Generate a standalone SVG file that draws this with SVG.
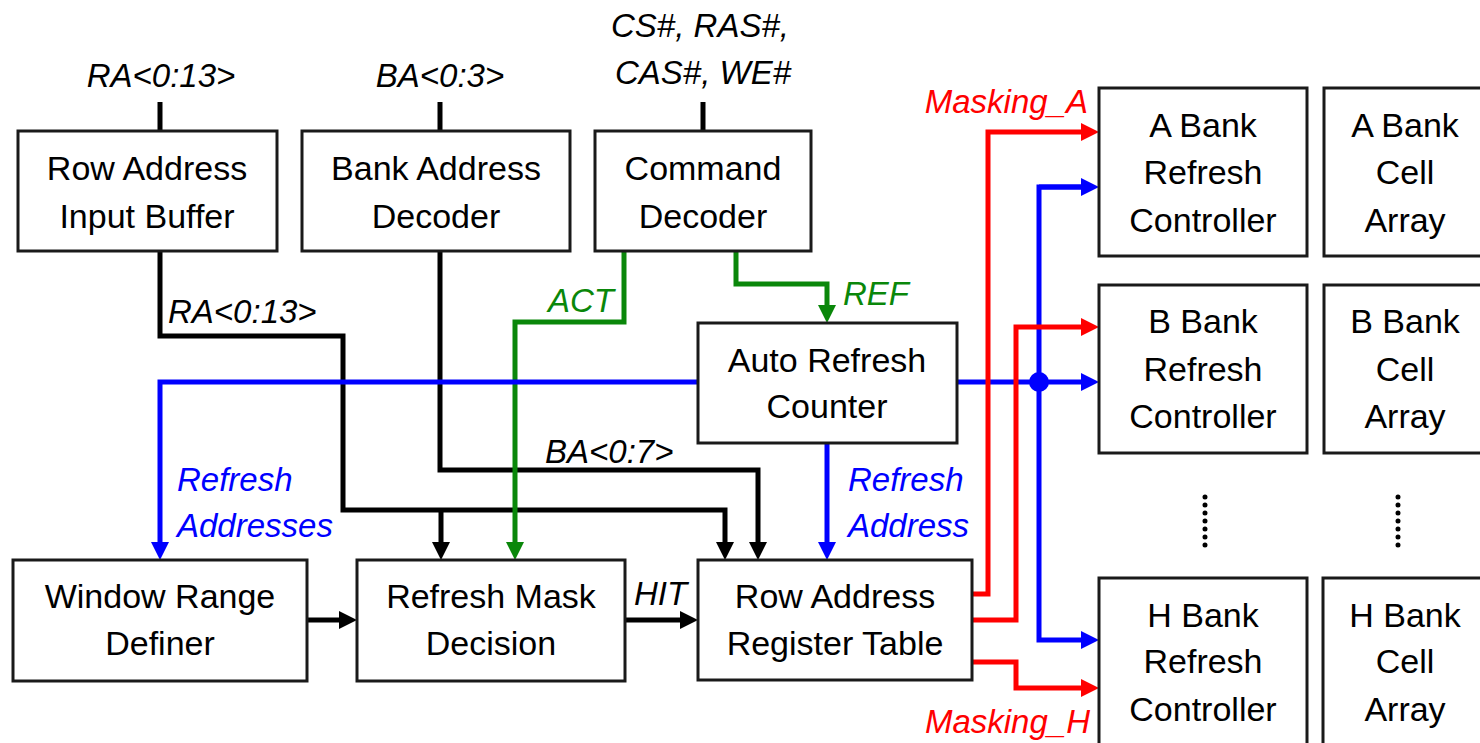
<svg xmlns="http://www.w3.org/2000/svg" width="1480" height="743" viewBox="0 0 1480 743">
  <style>
    .box { fill: #ffffff; stroke: #1a1a1a; stroke-width: 3; }
    .lbl { font-family: "Liberation Sans", Arial, sans-serif; font-size: 34px; fill: #000; text-anchor: middle; }
    .sig { font-family: "Liberation Sans", Arial, sans-serif; font-size: 33px; font-style: italic; }
    .w { fill: none; stroke-width: 5; stroke-linejoin: miter; }
    .k { stroke: #000; }
    .b { stroke: #0000ff; }
    .r { stroke: #ff0000; }
    .g { stroke: #0a870a; }
    .dots { fill: none; stroke: #000; stroke-width: 5; stroke-linecap: round; stroke-dasharray: 0 8; }
  </style>
  <defs>
    <marker id="ak" viewBox="0 0 18 18" markerUnits="userSpaceOnUse" markerWidth="18" markerHeight="18" refX="6" refY="9" orient="auto">
      <path d="M0,0 L18,9 L0,18 z" fill="#000"/>
    </marker>
    <marker id="ab" viewBox="0 0 18 18" markerUnits="userSpaceOnUse" markerWidth="18" markerHeight="18" refX="6" refY="9" orient="auto">
      <path d="M0,0 L18,9 L0,18 z" fill="#0000ff"/>
    </marker>
    <marker id="ar" viewBox="0 0 18 18" markerUnits="userSpaceOnUse" markerWidth="18" markerHeight="18" refX="6" refY="9" orient="auto">
      <path d="M0,0 L18,9 L0,18 z" fill="#ff0000"/>
    </marker>
    <marker id="ag" viewBox="0 0 18 18" markerUnits="userSpaceOnUse" markerWidth="18" markerHeight="18" refX="6" refY="9" orient="auto">
      <path d="M0,0 L18,9 L0,18 z" fill="#0a870a"/>
    </marker>
  </defs>
  <rect width="1480" height="743" fill="#ffffff"/>

  <!-- wires -->
  <g id="connectors">
    <!-- external inputs -->
    <path class="w k" d="M160,102 V131"/>
    <path class="w k" d="M440,102 V131"/>
    <path class="w k" d="M703,102 V131"/>
    <!-- row address bus -->
    <path class="w k" d="M160,251 V336 H343 V510 H725 V548" marker-end="url(#ak)"/>
    <path class="w k" d="M441,510 V548" marker-end="url(#ak)"/>
    <!-- bank address bus -->
    <path class="w k" d="M440,251 V470 H758 V548" marker-end="url(#ak)"/>
    <!-- window range -> mask decision, HIT -->
    <path class="w k" d="M307,620 H345" marker-end="url(#ak)"/>
    <path class="w k" d="M625,620 H686" marker-end="url(#ak)"/>
    <!-- command outputs -->
    <path class="w g" d="M624,251 V322 H515 V548" marker-end="url(#ag)"/>
    <path class="w g" d="M736,251 V284 H827 V311" marker-end="url(#ag)"/>
    <!-- refresh address fan-out -->
    <path class="w b" d="M698,382 H160 V548" marker-end="url(#ab)"/>
    <path class="w b" d="M827,443 V548" marker-end="url(#ab)"/>
    <path class="w b" d="M957,382 H1087" marker-end="url(#ab)"/>
    <path class="w b" d="M1087,187 H1039 V640 H1087" marker-end="url(#ab)"/>
    <path class="w b" d="M1039,187 H1087" marker-end="url(#ab)"/>
    <circle cx="1039" cy="382" r="10" fill="#0000ff"/>
    <!-- masking signals -->
    <path class="w r" d="M972,594 H988 V132 H1087" marker-end="url(#ar)"/>
    <path class="w r" d="M972,620 H1016 V327 H1087" marker-end="url(#ar)"/>
    <path class="w r" d="M972,662 H1016 V688 H1087" marker-end="url(#ar)"/>
    <!-- bank ellipsis -->
    <path class="dots" d="M1205,497 V546"/>
    <path class="dots" d="M1398,497 V546"/>
  </g>

  <!-- signal names -->
  <g id="signal-labels">
    <text class="sig" x="161" y="87" text-anchor="middle">RA&lt;0:13&gt;</text>
    <text class="sig" x="440" y="87" text-anchor="middle">BA&lt;0:3&gt;</text>
    <text class="sig" x="700" y="37" text-anchor="middle">CS#, RAS#,</text>
    <text class="sig" x="703" y="84" text-anchor="middle">CAS#, WE#</text>
    <text class="sig" x="168" y="323">RA&lt;0:13&gt;</text>
    <text class="sig" x="545" y="463">BA&lt;0:7&gt;</text>
    <text class="sig" x="634" y="605">HIT</text>
    <text class="sig" x="548" y="312" fill="#0a870a">ACT</text>
    <text class="sig" x="843" y="305" fill="#0a870a">REF</text>
    <text class="sig" x="177" y="491" fill="#0000ff">Refresh</text>
    <text class="sig" x="177" y="537" fill="#0000ff">Addresses</text>
    <text class="sig" x="848" y="491" fill="#0000ff">Refresh</text>
    <text class="sig" x="848" y="537" fill="#0000ff">Address</text>
    <text class="sig" x="1088" y="113" fill="#ff0000" text-anchor="end">Masking_A</text>
    <text class="sig" x="1090" y="733" fill="#ff0000" text-anchor="end">Masking_H</text>
  </g>

  <g id="row-address-input-buffer">
    <rect class="box" x="18" y="131" width="259" height="120"/>
    <text class="lbl" x="147" y="180">Row Address</text>
    <text class="lbl" x="147" y="228">Input Buffer</text>
  </g>
  <g id="bank-address-decoder">
    <rect class="box" x="302" y="131" width="268" height="120"/>
    <text class="lbl" x="436" y="180">Bank Address</text>
    <text class="lbl" x="436" y="228">Decoder</text>
  </g>
  <g id="command-decoder">
    <rect class="box" x="595" y="131" width="216" height="120"/>
    <text class="lbl" x="703" y="180">Command</text>
    <text class="lbl" x="703" y="228">Decoder</text>
  </g>
  <g id="auto-refresh-counter">
    <rect class="box" x="698" y="323" width="259" height="120"/>
    <text class="lbl" x="827" y="372">Auto Refresh</text>
    <text class="lbl" x="827" y="418">Counter</text>
  </g>
  <g id="window-range-definer">
    <rect class="box" x="13" y="560" width="294" height="121"/>
    <text class="lbl" x="160" y="608">Window Range</text>
    <text class="lbl" x="160" y="655">Definer</text>
  </g>
  <g id="refresh-mask-decision">
    <rect class="box" x="357" y="560" width="268" height="121"/>
    <text class="lbl" x="491" y="608">Refresh Mask</text>
    <text class="lbl" x="491" y="655">Decision</text>
  </g>
  <g id="row-address-register-table">
    <rect class="box" x="698" y="560" width="274" height="120"/>
    <text class="lbl" x="835" y="608">Row Address</text>
    <text class="lbl" x="835" y="655">Register Table</text>
  </g>

  <g id="a-bank-refresh-controller">
    <rect class="box" x="1099" y="88" width="208" height="168"/>
    <text class="lbl" x="1203" y="137">A Bank</text>
    <text class="lbl" x="1203" y="184">Refresh</text>
    <text class="lbl" x="1203" y="232">Controller</text>
  </g>
  <g id="a-bank-cell-array">
    <rect class="box" x="1324" y="88" width="170" height="168"/>
    <text class="lbl" x="1405" y="137">A Bank</text>
    <text class="lbl" x="1405" y="184">Cell</text>
    <text class="lbl" x="1405" y="232">Array</text>
  </g>
  <g id="b-bank-refresh-controller">
    <rect class="box" x="1099" y="285" width="208" height="168"/>
    <text class="lbl" x="1203" y="333">B Bank</text>
    <text class="lbl" x="1203" y="381">Refresh</text>
    <text class="lbl" x="1203" y="428">Controller</text>
  </g>
  <g id="b-bank-cell-array">
    <rect class="box" x="1324" y="285" width="170" height="168"/>
    <text class="lbl" x="1405" y="333">B Bank</text>
    <text class="lbl" x="1405" y="381">Cell</text>
    <text class="lbl" x="1405" y="428">Array</text>
  </g>
  <g id="h-bank-refresh-controller">
    <rect class="box" x="1099" y="578" width="208" height="180"/>
    <text class="lbl" x="1203" y="627">H Bank</text>
    <text class="lbl" x="1203" y="673">Refresh</text>
    <text class="lbl" x="1203" y="721">Controller</text>
  </g>
  <g id="h-bank-cell-array">
    <rect class="box" x="1323" y="578" width="170" height="180"/>
    <text class="lbl" x="1405" y="627">H Bank</text>
    <text class="lbl" x="1405" y="673">Cell</text>
    <text class="lbl" x="1405" y="721">Array</text>
  </g>
</svg>
